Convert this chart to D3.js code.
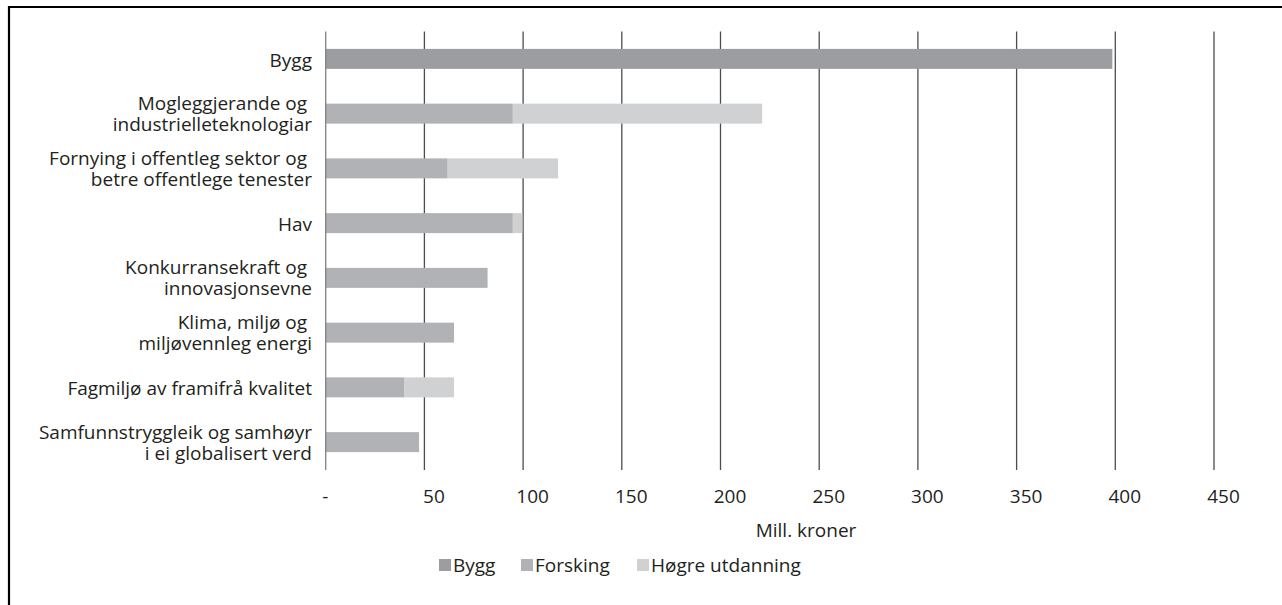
<!DOCTYPE html>
<html>
<head>
<meta charset="utf-8">
<script src="https://cdn.jsdelivr.net/npm/d3@7"></script>
<style>
  html, body { margin: 0; padding: 0; background: #fff; }
  svg { display: block; }
  text { font-family: "Open Sans", "Noto Sans", sans-serif; fill: #231f20; }
</style>
</head>
<body>
<svg id="chart" width="1282" height="605"></svg>
<script>
// ---- data ----
const categories = [
  "Bygg",
  "Mogleggjerande og |industrielleteknologiar",
  "Fornying i offentleg sektor og |betre offentlege tenester",
  "Hav",
  "Konkurransekraft og |innovasjonsevne",
  "Klima, miljø og |miljøvennleg energi",
  "Fagmiljø av framifrå kvalitet",
  "Samfunnstryggleik og samhøyr|i ei globalisert verd"
];
const seriesNames = ["Bygg", "Forsking", "Høgre utdanning"];
const bygg     = [398.5, 0,    0,    0,    0,  0,  0,    0];
const forsking = [0,     94.8, 61.8, 94.8, 82, 65, 39.7, 47.3];
const hogre    = [0,     126.3, 55.9, 4.8, 0,  0,  25.3, 0];
const xTicks = [0, 50, 100, 150, 200, 250, 300, 350, 400, 450];
const axisTitle = "Mill. kroner";

// ---- build ----
const colors = ["#9c9da1", "#b1b2b5", "#d0d1d3"];
const svg = d3.select("#chart");

const rows = categories.map((c, i) => ({ cat: c, Bygg: bygg[i], Forsking: forsking[i], "Høgre utdanning": hogre[i] }));
const stack = d3.stack().keys(seriesNames)(rows);

const x = d3.scaleLinear().domain([0, 450]).range([325.7, 1214]);
const y = d3.scaleBand().domain(categories).range([31.5, 469.5]).paddingInner(0.635).paddingOuter(0.3175);

// frame (top & left border)
svg.append("path")
  .attr("d", "M9,620 L9,7 L1300,7")
  .attr("fill", "none").attr("stroke", "#000").attr("stroke-width", 2.2);

// gridlines
svg.append("g").selectAll("line").data(xTicks.filter(d => d > 0)).join("line")
  .attr("x1", d => x(d)).attr("x2", d => x(d))
  .attr("y1", 31.5).attr("y2", 470)
  .attr("stroke", "#4d4d4d").attr("stroke-width", 1.3);

// bars
svg.append("g").selectAll("g").data(stack).join("g")
  .attr("fill", (d, i) => colors[i])
  .selectAll("rect").data(d => d).join("rect")
  .attr("x", d => x(d[0]))
  .attr("width", d => Math.max(0, x(d[1]) - x(d[0])))
  .attr("y", d => y(d.data.cat))
  .attr("height", y.bandwidth());

// category axis line
svg.append("line")
  .attr("x1", x(0)).attr("x2", x(0)).attr("y1", 31.5).attr("y2", 470)
  .attr("stroke", "#808080").attr("stroke-width", 1.3);

// category labels
const labG = svg.append("g");
categories.forEach(c => {
  const lines = c.split("|");
  const cy = y(c) + y.bandwidth() / 2;
  const t = labG.append("text").attr("text-anchor", "end").attr("font-size", 19);
  lines.forEach((ln, j) => {
    const base = lines.length === 1 ? cy + 8 : cy + 7 + (j === 0 ? -10.5 : 10.5);
    t.append("tspan").attr("x", 312).attr("y", base).text(ln);
  });
});

// x axis labels
const xAxis = d3.axisBottom(x).tickValues(xTicks).tickSize(0)
  .tickFormat(d => d === 0 ? "-" : d3.format("d")(d));
const gx = svg.append("g").attr("transform", "translate(0,470)").call(xAxis);
gx.select(".domain").remove();
gx.selectAll("text")
  .attr("font-size", 19)
  .attr("font-family", "'Open Sans', 'Noto Sans', sans-serif")
  .attr("fill", "#231f20")
  .attr("y", 33).attr("dy", 0)
  .attr("dx", d => d === 0 ? -1 : 9);

// axis title
svg.append("text").attr("x", 806).attr("y", 537).attr("text-anchor", "middle")
  .attr("font-size", 19).text(axisTitle);

// legend
const legendX = [439, 521, 637];
const lg = svg.append("g");
seriesNames.forEach((s, i) => {
  lg.append("rect").attr("x", legendX[i]).attr("y", 559).attr("width", 12).attr("height", 12).attr("fill", colors[i]);
  lg.append("text").attr("x", legendX[i] + 14).attr("y", 572).attr("font-size", 19).text(s);
});
</script>
</body>
</html>
